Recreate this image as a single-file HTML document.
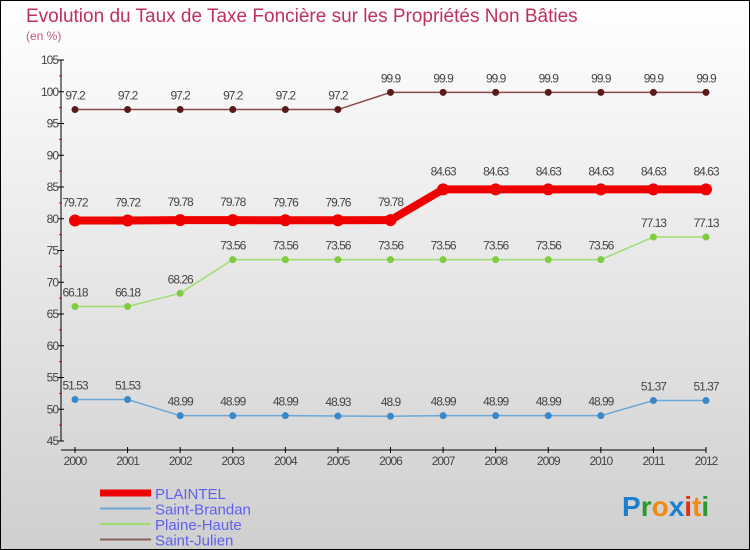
<!DOCTYPE html>
<html><head><meta charset="utf-8"><style>
body{margin:0;width:750px;height:550px;overflow:hidden}
#c{position:absolute;left:0;top:0;width:748px;height:548px;border:1px solid #000;background:linear-gradient(#ffffff,#cfcfcf)}
text{font-family:"Liberation Sans",sans-serif}
</style></head><body>
<div id="c">
<svg id="s" width="750" height="550" style="position:absolute;left:-1px;top:-1px">
<text x="26" y="22" font-size="19" fill="#c0305a">Evolution du Taux de Taxe Foncière sur les Propriétés Non Bâties</text>
<text x="26" y="40" font-size="12" fill="#c05a80">(en %)</text>
<g id="g"></g>
<text x="622" y="516" font-size="28" font-weight="bold"><tspan fill="#1a7fd0">P</tspan><tspan fill="#2a9a30">r</tspan><tspan fill="#f08a10">o</tspan><tspan fill="#1a7fd0">x</tspan><tspan fill="#e03010">i</tspan><tspan fill="#f08a10">t</tspan><tspan fill="#2a9a30">i</tspan></text>
</svg></div>
<script>
const years=[2000,2001,2002,2003,2004,2005,2006,2007,2008,2009,2010,2011,2012];
const yTicks=[45,50,55,60,65,70,75,80,85,90,95,100,105];
const plaintel=[79.72,79.72,79.78,79.78,79.76,79.76,79.78,84.63,84.63,84.63,84.63,84.63,84.63];
const brandan=[51.53,51.53,48.99,48.99,48.99,48.93,48.9,48.99,48.99,48.99,48.99,51.37,51.37];
const haute=[66.18,66.18,68.26,73.56,73.56,73.56,73.56,73.56,73.56,73.56,73.56,77.13,77.13];
const julien=[97.2,97.2,97.2,97.2,97.2,97.2,99.9,99.9,99.9,99.9,99.9,99.9,99.9];
const names=["PLAINTEL","Saint-Brandan","Plaine-Haute","Saint-Julien"];
const NS="http://www.w3.org/2000/svg",g=document.getElementById('g');
const X=i=>75+i*(706-75)/12, Y=v=>441-(v-45)*(381/60);
function el(t,a,p){const e=document.createElementNS(NS,t);for(const k in a)e.setAttribute(k,a[k]);(p||g).appendChild(e);return e;}
let e=el('line',{x1:61,y1:60,x2:61,y2:441,stroke:'#000'});

e=el('line',{x1:61,y1:450,x2:706,y2:450,stroke:'#000'});

yTicks.forEach((v,i)=>{
 el('line',{x1:58,x2:64,y1:Y(v),y2:Y(v),stroke:'#000'});
 if(i<yTicks.length-1)el('line',{x1:59,x2:62,y1:Y(v+2.5),y2:Y(v+2.5),stroke:'#e00'});
 const t=el('text',{x:58,y:Y(v)+4,'font-size':12,fill:'#444','text-anchor':'end','letter-spacing':'-1'});t.textContent=v;
 
});
years.forEach((y,i)=>{
 el('line',{x1:X(i),x2:X(i),y1:447,y2:453,stroke:'#000'});
 const t=el('text',{x:X(i),y:465,'font-size':12,fill:'#444','text-anchor':'middle','letter-spacing':'-1'});t.textContent=y;
 
});
function series(d,col,w,r,dot,name,lblOff){
 const p=el('polyline',{points:d.map((v,i)=>X(i)+','+Y(v)).join(' '),fill:'none',stroke:col,'stroke-width':w});
 
 d.forEach((v,i)=>{
  const c=el('circle',{cx:X(i),cy:Y(v),r:r,fill:dot});
  
  const t=el('text',{x:X(i),y:Y(v)-lblOff,'font-size':12,fill:'#444','text-anchor':'middle','letter-spacing':'-1'});t.textContent=v;
  
 });
}
series(julien,'#8a4a4a',1.5,3.5,'#5a1a1a','saint-julien',10);
series(haute,'#a0dd70',1.5,3.5,'#80cc40','plaine-haute',10);
series(brandan,'#6aa8d8',1.5,3.5,'#3a88c8','saint-brandan',10);
series(plaintel,'#ee0000',8,6,'#ee0000','plaintel',14);
const lc=['#ee0000','#6aa8d8','#a0dd70','#8a6060'],lw=[7,2,2,2];
names.forEach((n,i)=>{
 const y=493+i*15.5;
 el('line',{x1:100,x2:151,y1:y,y2:y,stroke:lc[i],'stroke-width':lw[i]});
 const t=el('text',{x:155,y:y+6,'font-size':15,fill:'#6060ee'});t.textContent=n;
 
});
</script></body></html>
